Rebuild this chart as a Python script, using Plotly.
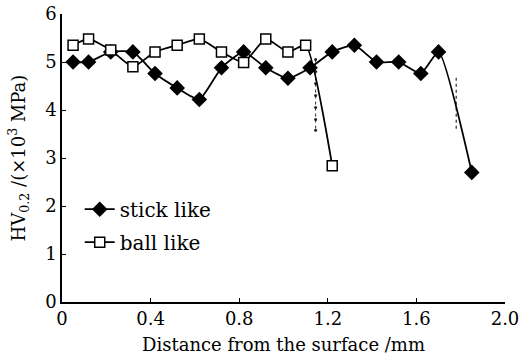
import plotly.graph_objects as go

# Data
stick_x = [0.05, 0.12, 0.22, 0.32, 0.42, 0.52, 0.62, 0.72, 0.82, 0.92, 1.02, 1.12,
           1.22, 1.32, 1.42, 1.52, 1.62, 1.70, 1.85]
stick_y = [5.0, 5.0, 5.21, 5.21, 4.76, 4.46, 4.22, 4.88, 5.21, 4.88, 4.66, 4.88,
           5.21, 5.35, 5.0, 5.0, 4.76, 5.21, 2.70]

ball_x = [0.05, 0.12, 0.22, 0.32, 0.42, 0.52, 0.62, 0.72, 0.82, 0.92, 1.02, 1.10, 1.22]
ball_y = [5.35, 5.48, 5.25, 4.90, 5.21, 5.35, 5.48, 5.21, 4.99, 5.48, 5.21, 5.35, 2.84]

# Interface marks (thin dotted verticals)
iface1_x = [1.145, 1.145, 1.145, 1.145, 1.145, 1.145, 1.145]
iface1_y = [5.05, 4.80, 4.55, 4.30, 4.05, 3.80, 3.58]
iface2_x = [1.78, 1.78]
iface2_y = [4.67, 3.58]

x_ticks = [0, 0.4, 0.8, 1.2, 1.6, 2.0]
x_labels = ["0", "0.4", "0.8", "1.2", "1.6", "2.0"]
y_ticks = [0, 1, 2, 3, 4, 5, 6]

FONT = "DejaVu Serif"

fig = go.Figure()
fig.add_trace(go.Scatter(
    x=iface1_x, y=iface1_y, mode="lines+markers", showlegend=False,
    line=dict(color="#333", width=1, dash="dot"),
    marker=dict(symbol="circle", size=3, color="#222"), hoverinfo="skip"))
fig.add_trace(go.Scatter(
    x=iface2_x, y=iface2_y, mode="lines", showlegend=False,
    line=dict(color="#555", width=1.5, dash="dot"), hoverinfo="skip"))
fig.add_trace(go.Scatter(
    x=stick_x, y=stick_y, mode="lines+markers", name="stick like", legendgroup="a",
    line=dict(color="black", width=1.8, shape="spline", smoothing=0.5),
    marker=dict(symbol="diamond", size=12, color="black")))
fig.add_trace(go.Scatter(
    x=ball_x, y=ball_y, mode="lines+markers", name="ball like", legendgroup="b",
    line=dict(color="black", width=1.8, shape="spline", smoothing=0.5),
    marker=dict(symbol="square", size=10, color="white",
                line=dict(color="black", width=1.5))))

fig.update_layout(
    width=525, height=355,
    margin=dict(l=62, r=20, t=14, b=53),
    paper_bgcolor="white", plot_bgcolor="white",
    font=dict(family=FONT, size=17, color="black"),
    showlegend=True,
    legend=dict(x=0.04, y=0.39, xanchor="left", yanchor="top",
                bgcolor="rgba(0,0,0,0)", font=dict(size=20, family=FONT),
                tracegroupgap=4, itemwidth=30),
    xaxis=dict(range=[0, 2.0], tickvals=x_ticks, ticktext=x_labels,
               showline=True, linecolor="black", linewidth=1.5,
               ticks="inside", ticklen=4, tickcolor="black",
               showgrid=False, zeroline=False, automargin=False,
               tickfont=dict(size=18, family=FONT),
               title=dict(text="Distance from the surface /mm",
                          font=dict(size=18, family=FONT))),
    yaxis=dict(range=[0, 6], tickvals=y_ticks,
               showline=True, linecolor="black", linewidth=1.5,
               ticks="inside", ticklen=4, tickcolor="black",
               showgrid=False, zeroline=False, automargin=False,
               tickfont=dict(size=18, family=FONT),
               title=dict(text="HV<sub>0.2</sub> /(×10<sup>3</sup> MPa)",
                          font=dict(size=18, family=FONT))),
)

fig.write_html("out.html",
               config={"displayModeBar": False},
               post_script="document.body.style.margin='0';document.body.style.overflow='hidden';")
